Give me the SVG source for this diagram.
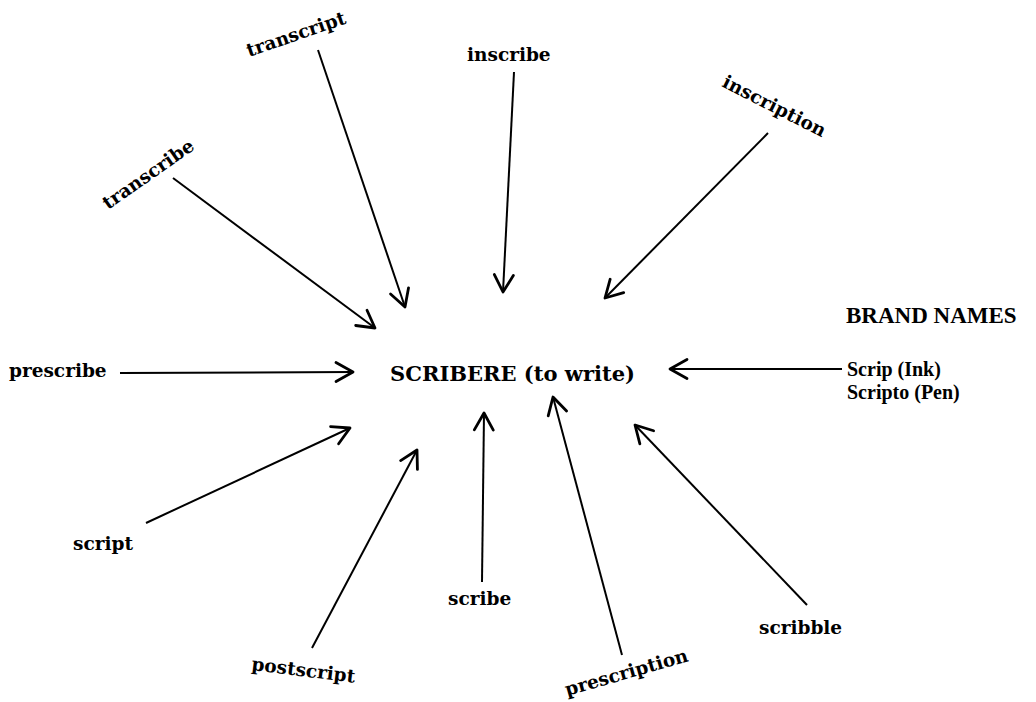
<svg xmlns="http://www.w3.org/2000/svg" width="1036" height="702" viewBox="0 0 1036 702">
<defs>
<marker id="ah" markerUnits="userSpaceOnUse" markerWidth="40" markerHeight="40" viewBox="-20 -20 40 40" refX="0" refY="0" orient="auto">
<path d="M -17 -9.5 L 0 0 L -17 9.5" fill="none" stroke="#000" stroke-width="2.8" stroke-linecap="round" stroke-linejoin="round"/>
</marker>
<style>
.lbl{font-family:"DejaVu Serif","Liberation Serif",serif;font-weight:bold;font-size:18.5px;fill:#000}
.brand{font-family:"Liberation Serif","DejaVu Serif",serif;font-weight:bold;fill:#000}
.ctr{font-family:"DejaVu Serif","Liberation Serif",serif;font-weight:bold;font-size:21px;fill:#000}
.cn{stroke:#000;stroke-width:2;fill:none;marker-end:url(#ah)}
</style>
</defs>
<rect width="1036" height="702" fill="#fff"/>
<g id="connectors">
<line class="cn" x1="173" y1="178" x2="375" y2="328"/>
<line class="cn" x1="318" y1="50" x2="405" y2="307"/>
<line class="cn" x1="514" y1="72" x2="503" y2="292"/>
<line class="cn" x1="768" y1="133" x2="605" y2="298"/>
<line class="cn" x1="120" y1="373" x2="353" y2="372"/>
<line class="cn" x1="146" y1="523" x2="350" y2="428"/>
<line class="cn" x1="312" y1="648" x2="417" y2="450"/>
<line class="cn" x1="482" y1="582" x2="484" y2="413"/>
<line class="cn" x1="622" y1="655" x2="553" y2="397"/>
<line class="cn" x1="807" y1="605" x2="635" y2="425"/>
<line class="cn" x1="842" y1="369" x2="670" y2="369"/>
</g>
<g id="scribere"><text class="ctr" x="390" y="381" textLength="245" lengthAdjust="spacingAndGlyphs">SCRIBERE (to write)</text></g>
<g id="transcript"><text class="lbl" x="249" y="57" transform="rotate(-19 249 57)">transcript</text></g>
<g id="transcribe"><text class="lbl" x="108" y="210" transform="rotate(-35 108 210)">transcribe</text></g>
<g id="inscribe"><text class="lbl" x="467" y="61">inscribe</text></g>
<g id="inscription"><text class="lbl" x="721" y="86" transform="rotate(27 721 86)">inscription</text></g>
<g id="prescribe"><text class="lbl" x="9" y="377">prescribe</text></g>
<g id="script"><text class="lbl" x="73" y="550">script</text></g>
<g id="postscript"><text class="lbl" x="251" y="670" transform="rotate(7 251 670)">postscript</text></g>
<g id="scribe"><text class="lbl" x="448" y="605">scribe</text></g>
<g id="prescription"><text class="lbl" x="567" y="696" transform="rotate(-16 567 696)">prescription</text></g>
<g id="scribble"><text class="lbl" x="759" y="634">scribble</text></g>
<g id="brand-names">
<text class="brand" x="846" y="323" font-size="23">BRAND NAMES</text>
<text class="brand" x="847" y="376" font-size="20">Scrip (Ink)</text>
<text class="brand" x="847" y="399" font-size="20">Scripto (Pen)</text>
</g>
</svg>
